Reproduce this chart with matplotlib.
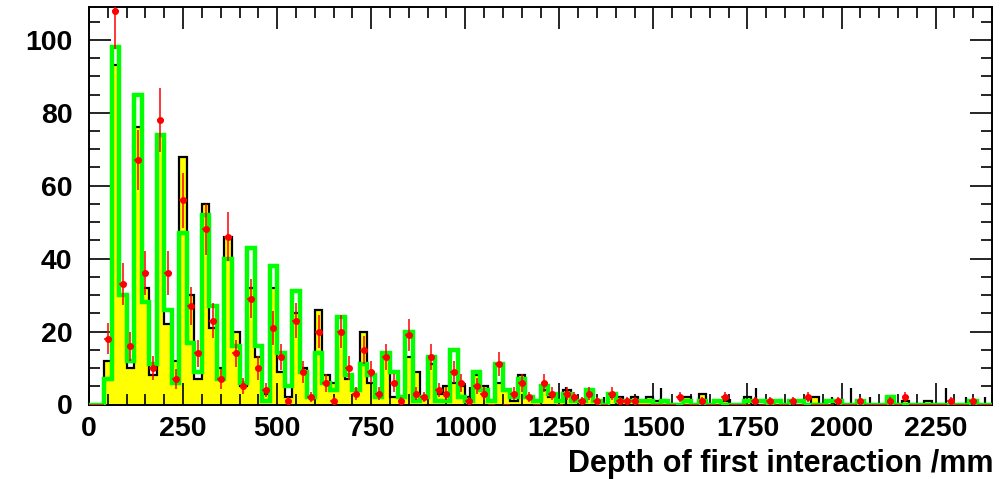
import numpy as np
import matplotlib
matplotlib.use("Agg")
import matplotlib.pyplot as plt
from matplotlib.ticker import MultipleLocator

plt.rcParams['font.family'] = ['Liberation Sans', 'DejaVu Sans']
plt.rcParams['font.weight'] = 'bold'

# bins of 20 mm from 0 to 2400
edges = np.arange(0, 2401, 20)

# simulated (yellow, black outline)
sim_black = [0, 0, 12, 93, 30, 10, 76, 32, 8, 74,
             22, 12, 68, 30, 7, 55, 21, 10, 46, 20,
             5, 32, 13, 3, 32, 9, 2, 25, 10, 2,
             26, 8, 6, 20, 7, 4, 20, 6, 2, 14,
             2, 2, 13, 9, 2, 11, 3, 5, 6, 5,
             2, 8, 5, 1, 6, 4, 1, 8, 2, 1,
             4, 2, 1, 4, 1, 1, 4, 1, 0, 2,
             2, 1, 2, 1, 2, 1, 1, 0, 0, 2,
             0, 3, 0, 1, 1, 0, 0, 2, 0, 0,
             0, 0, 0, 0, 0, 0, 2, 0, 0, 1,
             0, 0, 0, 0, 0, 0, 1, 0, 1, 0,
             0, 1, 0, 0, 0, 0, 0, 0, 0, 0]

# second simulation (green line)
sim_green = [0, 0, 7, 98, 30, 12, 85, 28, 11, 74,
             26, 6, 47, 17, 9, 52, 27, 7, 40, 16,
             6, 43, 16, 1, 38, 14, 5, 31, 9, 2,
             14, 6, 4, 24, 8, 4, 11, 8, 2, 14,
             9, 2, 20, 1, 2, 13, 1, 1, 15, 2,
             1, 9, 4, 1, 11, 4, 2, 7, 2, 1,
             5, 3, 1, 3, 1, 1, 4, 1, 0, 3,
             1, 1, 1, 1, 1, 0, 1, 0, 0, 1,
             0, 1, 0, 1, 0, 0, 0, 1, 1, 1,
             0, 1, 0, 1, 1, 0, 0, 0, 1, 1,
             0, 0, 1, 0, 0, 0, 2, 0, 0, 0,
             0, 0, 0, 0, 0, 0, 0, 1, 0, 0]

# data (red points)
data = [0, 0, 18, 108, 33, 16, 67, 36, 10, 78,
        36, 7, 56, 27, 14, 48, 23, 7, 46, 14,
        5, 29, 10, 4, 21, 13, 1, 23, 9, 2,
        20, 6, 1, 20, 10, 3, 15, 9, 3, 13,
        6, 1, 19, 3, 2, 13, 4, 3, 9, 6,
        1, 5, 3, 0, 11, 0, 3, 6, 2, 0,
        6, 3, 0, 3, 2, 1, 3, 1, 0, 3,
        1, 1, 1, 0, 0, 0, 0, 0, 2, 0,
        0, 1, 0, 0, 2, 0, 0, 0, 1, 0,
        1, 0, 0, 1, 0, 2, 0, 0, 0, 1,
        0, 0, 1, 0, 0, 0, 1, 0, 2, 0,
        0, 0, 0, 0, 1, 0, 0, 1, 0, 0]

# thin black spikes in the tail (position /mm, height)
spike_x = [1012, 1267, 1368, 1520, 1703, 1772, 1820, 1976, 2026, 2077, 2279, 2330, 2381]
spike_h = [4.7, 4.8, 2, 4.5, 1.5, 4.5, 1.5, 2, 4.5, 2, 4.5, 2, 2]

centers = 0.5 * (edges[:-1] + edges[1:])
data = np.array(data, dtype=float)

fig = plt.figure(figsize=(10.02, 4.79), dpi=100)
ax = fig.add_axes([89 / 1002, 1 - 404.5 / 479, (992 - 89) / 1002, (404.5 - 7) / 479])

ax.stairs(sim_black, edges, fill=True, color='#ffff00', zorder=1)
ax.stairs(sim_black, edges, color='black', lw=1.6, zorder=2)
ax.vlines(spike_x, 0, spike_h, color='black', lw=1.6, zorder=2)
ax.stairs(sim_green, edges, color='#00ff00', lw=3.2, zorder=3)

ax.errorbar(centers, data, xerr=10, yerr=np.sqrt(data), fmt='none',
            ecolor='red', elinewidth=1.1, capsize=0, zorder=4, clip_on=True)
nz = data > 0
ax.plot(centers[nz], data[nz], 'o', color='red', ms=4, zorder=5)

ax.set_xlim(0, 2400)
ax.set_ylim(0, 109)
ax.xaxis.set_major_locator(MultipleLocator(250))
ax.xaxis.set_minor_locator(MultipleLocator(50))
ax.yaxis.set_major_locator(MultipleLocator(20))
ax.yaxis.set_minor_locator(MultipleLocator(5))
ax.tick_params(which='both', direction='in', top=True, right=True, width=1.2)
ax.tick_params(which='major', length=16, labelsize=20.5)
ax.tick_params(which='minor', length=8)
ax.tick_params(axis='x', pad=8)
ax.tick_params(axis='y', pad=12)
for lab in ax.get_xticklabels() + ax.get_yticklabels():
    lab.set_fontweight('bold')
for s in ax.spines.values():
    s.set_linewidth(1.4)

fig.text(993 / 1002, 1 - 472 / 479, "Depth of first interaction /mm",
         ha='right', va='baseline', fontsize=22, fontweight='bold')

fig.savefig("out.png", dpi=100)
